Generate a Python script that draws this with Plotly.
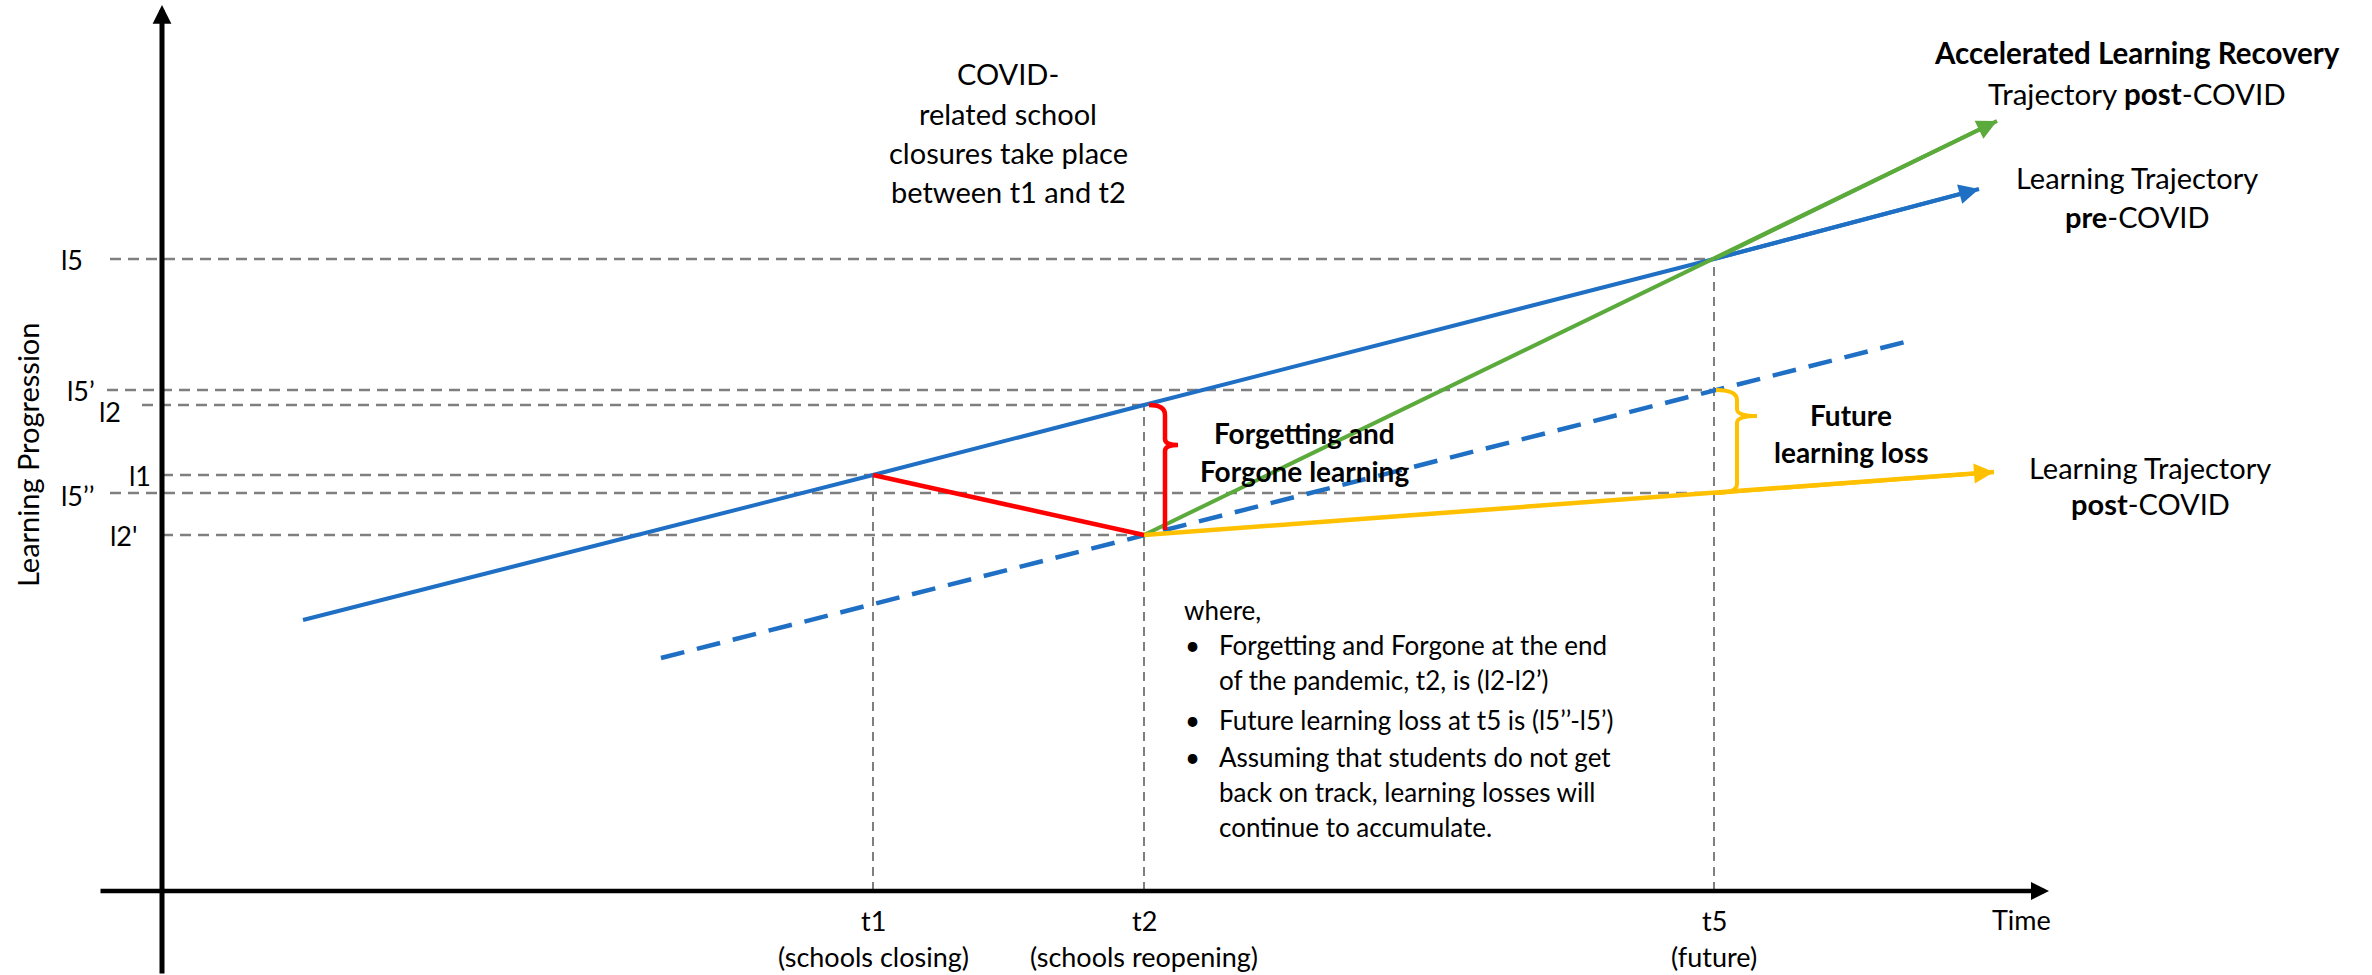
import plotly.graph_objects as go

# ---------------- data ----------------
# time axis: distance from the origin
time_labels = ["t1", "t2", "t5"]
time_notes = ["(schools closing)", "(schools reopening)", "(future)"]
time_values = [711, 982, 1552]

# learning levels
level_labels = ["l5", "l5’", "l2", "l1", "l5’’", "l2'"]
level_values = [632, 501, 486, 416, 398, 356]
level_end_time = [1552, 1552, 982, 711, 1552, 982]

# trajectories (time, level)
pre_covid_t = [141, 711, 982, 1552, 1817]
pre_covid_l = [271, 416, 486, 632, 702]
shifted_t = [499, 982, 1552, 1747]
shifted_l = [233, 356, 501, 550]
accelerated_t = [982, 1552, 1835]
accelerated_l = [356, 632, 770]
post_covid_t = [982, 1552, 1832]
post_covid_l = [356, 398, 419]
forgetting_t = [711, 982]
forgetting_l = [416, 356]

# ---------------- styles ----------------
BLUE = "#1F70C4"
GREEN = "#5BAA3C"
GOLD = "#FFC000"
RED = "#FF0000"
GREY = "#7F7F7F"
FONT = "Lato, Noto Sans, sans-serif"

W, H = 2372, 975
X0 = -162
X1 = X0 + W
Y1 = 891
Y0 = Y1 - H

fig = go.Figure()

# horizontal level guides
level_start = [-52, -55, -20, 0, -52, 0]
label_right = [-77, -65, -39, -9, -65, -22]
label_dy = [0, 0, -6, 0, -2, 0]
for lab, val, tend, xs, xr, dy in zip(level_labels, level_values, level_end_time,
                                       level_start, label_right, label_dy):
    fig.add_trace(go.Scatter(x=[xs, tend], y=[val, val], mode="lines",
                             line=dict(color=GREY, width=2.5, dash="11px,7px"),
                             hoverinfo="skip"))
    fig.add_annotation(x=xr, y=val + dy, text=lab, showarrow=False,
                       xanchor="right", yanchor="middle",
                       font=dict(family=FONT, size=27, color="#000"))

# vertical time guides
time_top = [416, 486, 632]
for tv, top in zip(time_values, time_top):
    fig.add_trace(go.Scatter(x=[tv, tv], y=[0, top], mode="lines",
                             line=dict(color=GREY, width=2, dash="9px,6px"),
                             hoverinfo="skip"))

# trajectories
fig.add_trace(go.Scatter(x=shifted_t, y=shifted_l, mode="lines",
                         line=dict(color=BLUE, width=4.5, dash="24px,13px")))
fig.add_trace(go.Scatter(x=pre_covid_t, y=pre_covid_l, mode="lines",
                         line=dict(color=BLUE, width=4)))
fig.add_trace(go.Scatter(x=accelerated_t, y=accelerated_l, mode="lines",
                         line=dict(color=GREEN, width=4)))
fig.add_trace(go.Scatter(x=post_covid_t, y=post_covid_l, mode="lines",
                         line=dict(color=GOLD, width=4.5)))
fig.add_trace(go.Scatter(x=forgetting_t, y=forgetting_l, mode="lines",
                         line=dict(color=RED, width=4.5)))

# arrowheads on trajectories
for tt, ll, col in [(pre_covid_t, pre_covid_l, BLUE),
                    (accelerated_t, accelerated_l, GREEN),
                    (post_covid_t, post_covid_l, GOLD)]:
    fig.add_annotation(x=tt[-1], y=ll[-1], ax=tt[-2], ay=ll[-2],
                       xref="x", yref="y", axref="x", ayref="y",
                       text="", showarrow=True, arrowhead=2, arrowsize=1.0,
                       arrowwidth=4, arrowcolor=col, standoff=0)

# axes with arrows
fig.add_annotation(x=0, y=886, ax=0, ay=Y0, xref="x", yref="y", axref="x", ayref="y",
                   text="", showarrow=True, arrowhead=2, arrowsize=0.75,
                   arrowwidth=5, arrowcolor="#000", standoff=0)
fig.add_annotation(x=1887, y=0, ax=-63, ay=0, xref="x", yref="y", axref="x", ayref="y",
                   text="", showarrow=True, arrowhead=2, arrowsize=0.8,
                   arrowwidth=4.5, arrowcolor="#000", standoff=0)

# braces
t2 = time_values[1]
t5 = time_values[2]
l2, l2p = level_values[2], level_values[5]
l5p, l5pp = level_values[1], level_values[4]
bx = t2 + 21
ny = l2 - 40
red_path = (f"M {t2+5},{l2} Q {bx},{l2} {bx},{l2-10} L {bx},{ny+6} "
            f"Q {bx},{ny} {bx+13},{ny} M {bx+13},{ny} Q {bx},{ny} {bx},{ny-6} "
            f"L {bx},{l2p+5}")
fig.add_shape(type="path", path=red_path, xref="x", yref="y",
              line=dict(color=RED, width=4.5))
bx2 = t5 + 23
ny2 = l5p - 26
gold_path = (f"M {t5+2},{l5p} Q {bx2},{l5p} {bx2},{l5p-10} L {bx2},{ny2+7} "
             f"Q {bx2},{ny2} {bx2+20},{ny2} M {bx2+20},{ny2} Q {bx2},{ny2} {bx2},{ny2-7} "
             f"L {bx2},{l5pp+9} Q {bx2},{l5pp} {t5+2},{l5pp}")
fig.add_shape(type="path", path=gold_path, xref="x", yref="y",
              line=dict(color=GOLD, width=4))

# axis labels
fig.add_annotation(x=-135, y=436, text="Learning Progression", textangle=-90,
                   showarrow=False, font=dict(family=FONT, size=29, color="#000"))
fig.add_annotation(x=1859, y=-28, text="Time", showarrow=False,
                   font=dict(family=FONT, size=27, color="#000"))
for lab, note, tv in zip(time_labels, time_notes, time_values):
    fig.add_annotation(x=tv, y=-29, text=lab, showarrow=False,
                       font=dict(family=FONT, size=27, color="#000"))
    fig.add_annotation(x=tv, y=-65, text=note, showarrow=False,
                       font=dict(family=FONT, size=27, color="#000"))


def text_lines(lines, x, ys, size, anchor="center", bold=False):
    for line, y in zip(lines, ys):
        txt = f"<b>{line}</b>" if bold else line
        fig.add_annotation(x=x, y=y, text=txt, showarrow=False, xanchor=anchor,
                           yanchor="middle",
                           font=dict(family=FONT, size=size, color="#000"))


text_lines(["COVID-", "related school", "closures take place", "between t1 and t2"],
           846, [818, 778, 739, 700], 29)
text_lines(["<b>Accelerated Learning Recovery</b>", "Trajectory <b>post</b>-COVID"],
           1975, [839, 798], 29.5)
text_lines(["Learning Trajectory", "<b>pre</b>-COVID"], 1975, [714, 675], 29)
text_lines(["Learning Trajectory", "<b>post</b>-COVID"], 1988, [424, 388], 29)
text_lines(["Forgetting and", "Forgone learning"], 1142, [458, 420], 28, bold=True)
text_lines(["Future", "learning loss"], 1689, [476, 439], 28, bold=True)

text_lines(["where,"], 1020, [281], 26, anchor="left")
text_lines(["•", "•", "•"], 1021, [246, 171, 134], 26, anchor="left")
text_lines(["Forgetting and Forgone at the end", "of the pandemic, t2, is (l2-l2’)",
            "Future learning loss at t5 is (l5’’-l5’)", "Assuming that students do not get",
            "back on track, learning losses will", "continue to accumulate."],
           1055, [246, 211, 171, 134, 99, 64], 26, anchor="left")

fig.update_layout(
    width=W, height=H, margin=dict(l=0, r=0, t=0, b=0),
    paper_bgcolor="white", plot_bgcolor="white", showlegend=False,
    xaxis=dict(range=[X0, X1], visible=False, fixedrange=True),
    yaxis=dict(range=[Y0, Y1], visible=False, fixedrange=True),
)
fig.write_html(
    "out.html",
    config={"displayModeBar": False},
    post_script="document.body.style.margin='0px';document.body.style.overflow='hidden';",
)
